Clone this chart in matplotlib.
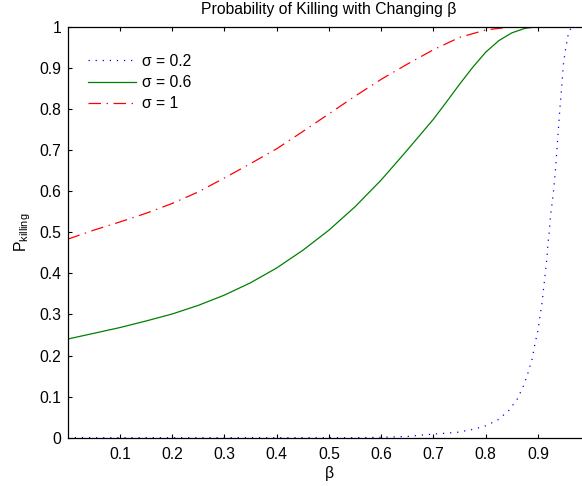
import matplotlib
matplotlib.use("Agg")
import matplotlib.pyplot as plt

plt.rcParams['font.family'] = ['Liberation Sans', 'DejaVu Sans']
plt.rcParams['mathtext.fontset'] = 'custom'
plt.rcParams['mathtext.rm'] = 'Liberation Sans'
plt.rcParams['mathtext.it'] = 'Liberation Sans:italic'
plt.rcParams['lines.scale_dashes'] = False

# Probability of killing vs beta for three values of sigma
beta_s02 = [0.0, 0.55, 0.60, 0.65, 0.674, 0.703, 0.745, 0.771, 0.798, 0.823,
            0.844, 0.860, 0.872, 0.881, 0.889, 0.894, 0.900, 0.904, 0.908,
            0.911, 0.914, 0.917, 0.919, 0.922, 0.924, 0.929, 0.933, 0.936,
            0.939, 0.942, 0.9455, 0.9486, 0.952, 0.957, 0.961, 0.966, 1.0]
p_s02 = [0.0, 0.0, 0.001, 0.003, 0.006, 0.009, 0.013, 0.019, 0.028, 0.043,
         0.066, 0.093, 0.125, 0.158, 0.192, 0.227, 0.261, 0.296, 0.330,
         0.365, 0.400, 0.434, 0.470, 0.505, 0.539, 0.590, 0.643, 0.696,
         0.749, 0.801, 0.854, 0.907, 0.939, 0.976, 0.992, 1.0, 1.0]

beta_s06 = [0.0, 0.05, 0.10, 0.15, 0.20, 0.25, 0.30, 0.35, 0.40, 0.45, 0.50,
            0.55, 0.60, 0.65, 0.70, 0.725, 0.75, 0.775, 0.80, 0.825, 0.85,
            0.875, 0.90, 1.0]
p_s06 = [0.240, 0.254, 0.268, 0.284, 0.301, 0.322, 0.347, 0.377, 0.413,
         0.456, 0.505, 0.562, 0.627, 0.700, 0.775, 0.817, 0.860, 0.901,
         0.938, 0.966, 0.985, 0.996, 1.0, 1.0]

beta_s1 = [0.0, 0.05, 0.10, 0.15, 0.20, 0.25, 0.30, 0.35, 0.40, 0.45, 0.50,
           0.55, 0.60, 0.65, 0.70, 0.75, 0.80, 0.85, 1.0]
p_s1 = [0.483, 0.505, 0.525, 0.546, 0.570, 0.598, 0.632, 0.667, 0.703,
        0.745, 0.788, 0.831, 0.872, 0.909, 0.944, 0.974, 0.992, 1.0, 1.0]

labels = ['σ = 0.2', 'σ = 0.6', 'σ = 1']
xticks = [0.1, 0.2, 0.3, 0.4, 0.5, 0.6, 0.7, 0.8, 0.9]
yticks = [0, 0.1, 0.2, 0.3, 0.4, 0.5, 0.6, 0.7, 0.8, 0.9, 1]
ytick_labels = ['0', '0.1', '0.2', '0.3', '0.4', '0.5', '0.6', '0.7', '0.8', '0.9', '1']

FS = 11.3
W, H = 582, 486
fig = plt.figure(figsize=(W / 100, H / 100), dpi=100)
ax = fig.add_axes([67.7 / W, 48.3 / H, 522.5 / W, 411.0 / H])

lw = 0.9
ax.plot(beta_s02, p_s02, color=(0, 0, 1), lw=lw, dashes=(0.9, 4.2), label=labels[0])
ax.plot(beta_s06, p_s06, color=(0, 0.5, 0), lw=lw, label=labels[1])
ax.plot(beta_s1, p_s1, color=(1, 0, 0), lw=lw, dashes=(9.0, 4.0, 1.0, 4.0), label=labels[2])

ax.set_xlim(0, 1)
ax.set_ylim(0, 1)
ax.set_xticks(xticks)
ax.set_xticklabels([f'{t:g}' for t in xticks])
ax.set_yticks(yticks)
ax.set_yticklabels(ytick_labels)
ax.tick_params(direction='in', length=3.2, width=0.8, top=True, right=True,
               labelsize=FS, colors='black')
ax.tick_params(axis='x', pad=7)
ax.tick_params(axis='y', pad=4.5)
for s in ax.spines.values():
    s.set_linewidth(0.9)

ax.set_title('Probability of Killing with Changing β', fontsize=FS, pad=9)
ax.set_xlabel('β', fontsize=FS, va='top')
ax.xaxis.set_label_coords(0.5, -0.068)
ax.set_ylabel(r'P$_{\mathregular{killing}}$', fontsize=FS)
ax.yaxis.set_label_coords(-0.066, 0.5)

ax.legend(frameon=False, loc='upper left', bbox_to_anchor=(0.039, 0.934),
          borderaxespad=0, borderpad=0, handlelength=3.06, handletextpad=0.38,
          labelspacing=0.4, fontsize=FS)

fig.savefig('out.png', dpi=100)
